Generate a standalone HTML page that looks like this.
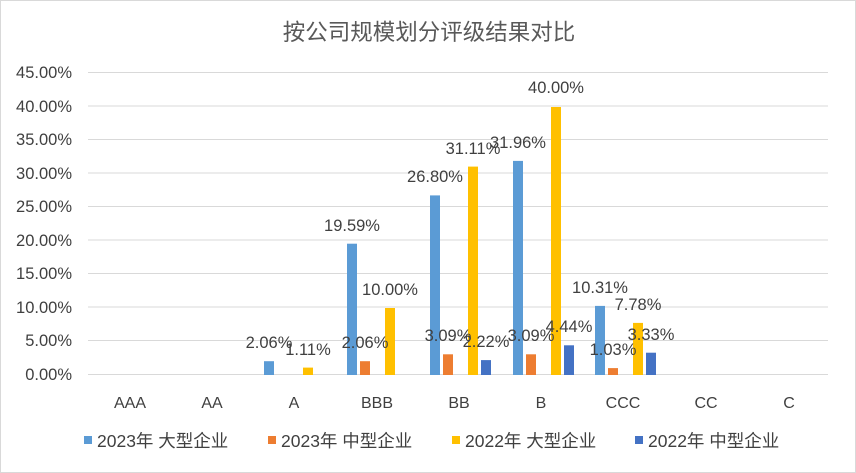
<!DOCTYPE html>
<html><head><meta charset="utf-8"><style>
html,body{margin:0;padding:0;background:#fff}
svg{display:block}
text{font-family:"Liberation Sans","Noto Sans CJK SC",sans-serif}
</style></head><body>
<svg width="856" height="473" viewBox="0 0 856 473">
<rect x="0.5" y="0.5" width="855" height="472" fill="#fff" stroke="#d9d9d9"/>
<text x="429" y="40" text-anchor="middle" font-size="22.5" fill="#595959">按公司规模划分评级结果对比</text>
<g stroke="#d9d9d9" stroke-width="1">
<line x1="88" x2="828" y1="72.5" y2="72.5"/>
<line x1="88" x2="828" y1="106" y2="106"/>
<line x1="88" x2="828" y1="139.5" y2="139.5"/>
<line x1="88" x2="828" y1="173" y2="173"/>
<line x1="88" x2="828" y1="206.5" y2="206.5"/>
<line x1="88" x2="828" y1="240" y2="240"/>
<line x1="88" x2="828" y1="273.5" y2="273.5"/>
<line x1="88" x2="828" y1="307" y2="307"/>
<line x1="88" x2="828" y1="340.5" y2="340.5"/>
<line x1="88" x2="828" y1="374.5" y2="374.5"/>
</g>
<g font-size="16.5" fill="#404040" text-anchor="end">
<text x="72" y="78">45.00%</text><text x="72" y="112">40.00%</text><text x="72" y="145">35.00%</text>
<text x="72" y="179">30.00%</text><text x="72" y="212">25.00%</text><text x="72" y="246">20.00%</text>
<text x="72" y="279">15.00%</text><text x="72" y="313">10.00%</text><text x="72" y="346">5.00%</text>
<text x="72" y="380">0.00%</text>
</g>
<g font-size="16" fill="#404040" text-anchor="middle">
<text x="130" y="408">AAA</text><text x="212" y="408">AA</text><text x="294" y="408">A</text>
<text x="377" y="408">BBB</text><text x="459" y="408">BB</text><text x="541" y="408">B</text>
<text x="623" y="408">CCC</text><text x="706" y="408">CC</text><text x="789" y="408">C</text>
</g>
<g>
<rect x="264" y="361.2" width="10" height="13.8" fill="#5B9BD5"/>
<rect x="303" y="367.6" width="10" height="7.4" fill="#FFC000"/>
<rect x="347" y="243.7" width="10" height="131.3" fill="#5B9BD5"/>
<rect x="360" y="361.2" width="10" height="13.8" fill="#ED7D31"/>
<rect x="385" y="308" width="10" height="67" fill="#FFC000"/>
<rect x="430" y="195.4" width="10" height="179.6" fill="#5B9BD5"/>
<rect x="443" y="354.3" width="10" height="20.7" fill="#ED7D31"/>
<rect x="468" y="166.6" width="10" height="208.4" fill="#FFC000"/>
<rect x="481" y="360.1" width="10" height="14.9" fill="#4472C4"/>
<rect x="513" y="160.9" width="10" height="214.1" fill="#5B9BD5"/>
<rect x="526" y="354.3" width="10" height="20.7" fill="#ED7D31"/>
<rect x="551" y="107" width="10" height="268" fill="#FFC000"/>
<rect x="564" y="345.3" width="10" height="29.7" fill="#4472C4"/>
<rect x="595" y="305.9" width="10" height="69.1" fill="#5B9BD5"/>
<rect x="608" y="368.1" width="10" height="6.9" fill="#ED7D31"/>
<rect x="633" y="322.9" width="10" height="52.1" fill="#FFC000"/>
<rect x="646" y="352.7" width="10" height="22.3" fill="#4472C4"/>
</g>
<g font-size="16.5" fill="#404040" text-anchor="middle">
<text x="269" y="348">2.06%</text>
<text x="308" y="355">1.11%</text>
<text x="352" y="231">19.59%</text>
<text x="365" y="348">2.06%</text>
<text x="390" y="295">10.00%</text>
<text x="435" y="182">26.80%</text>
<text x="448" y="341">3.09%</text>
<text x="473" y="154">31.11%</text>
<text x="486" y="347">2.22%</text>
<text x="518" y="148">31.96%</text>
<text x="531" y="341">3.09%</text>
<text x="556" y="93">40.00%</text>
<text x="569" y="332">4.44%</text>
<text x="600" y="293">10.31%</text>
<text x="613" y="355">1.03%</text>
<text x="638" y="310">7.78%</text>
<text x="651" y="340">3.33%</text>
</g>
<g font-size="17.5" fill="#404040">
<rect x="84" y="436" width="8" height="8" fill="#5B9BD5"/><text x="97" y="447">2023年 大型企业</text>
<rect x="268" y="436" width="8" height="8" fill="#ED7D31"/><text x="281" y="447">2023年 中型企业</text>
<rect x="452" y="436" width="8" height="8" fill="#FFC000"/><text x="465" y="447">2022年 大型企业</text>
<rect x="635" y="436" width="8" height="8" fill="#4472C4"/><text x="648" y="447">2022年 中型企业</text>
</g>
</svg>
</body></html>
